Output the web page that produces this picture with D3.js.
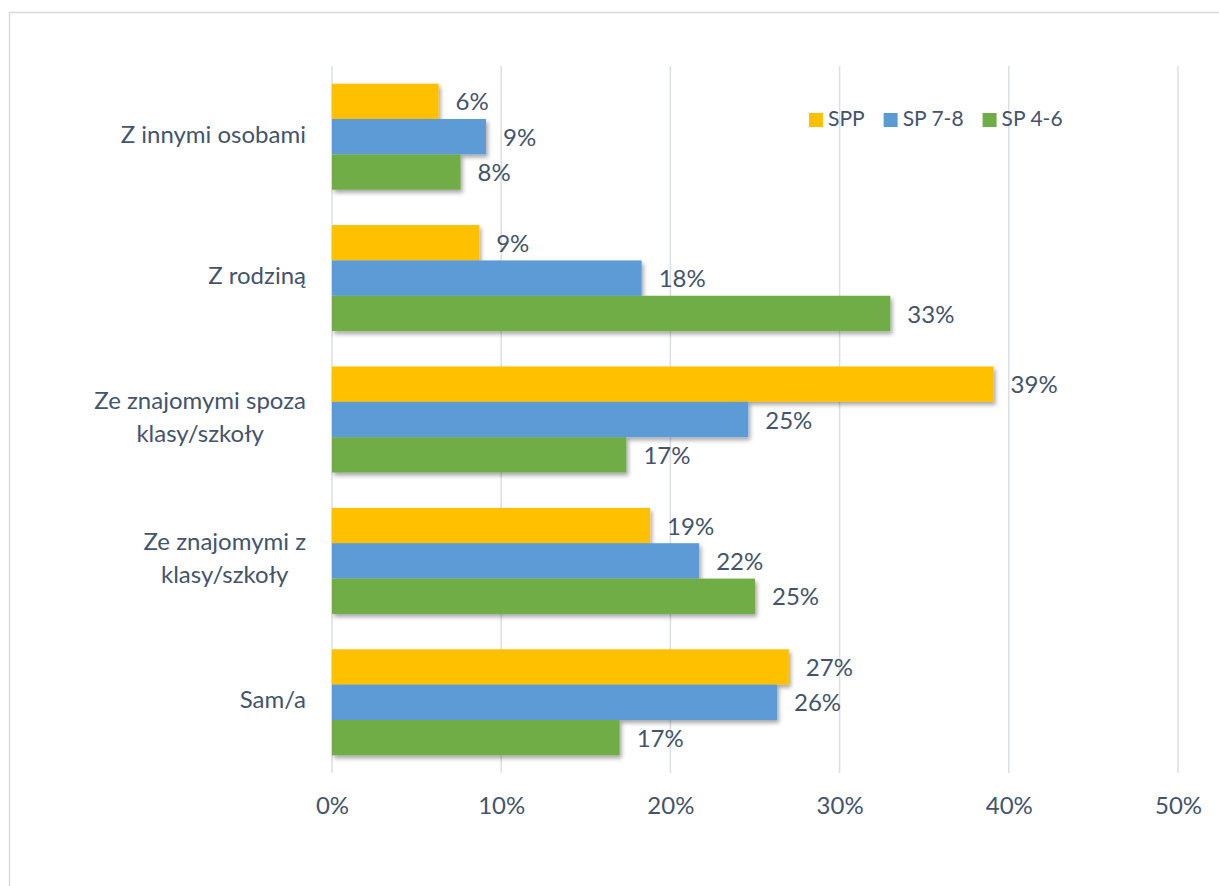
<!DOCTYPE html>
<html>
<head>
<meta charset="utf-8">
<script src="https://cdn.jsdelivr.net/npm/d3@7"></script>
<style>
  html, body { margin: 0; padding: 0; background: #fff; }
  svg { display: block; }
  text { font-family: Lato, "Open Sans", sans-serif; fill: #44546A; }
</style>
</head>
<body>
<svg id="chart" width="1219" height="886"></svg>
<script>
// Categories (top to bottom); "\n" marks a line break in the axis label
const categories = [
  "Z innymi osobami",
  "Z rodziną",
  "Ze znajomymi spoza\nklasy/szkoły",
  "Ze znajomymi z\nklasy/szkoły",
  "Sam/a"
];
const seriesNames = ["SPP", "SP 7-8", "SP 4-6"];
const seriesColors = ["#FFC000", "#5B9BD5", "#70AD47"];
// Percent values per series, same order as categories
const valuesSPP  = [6.3, 8.7, 39.1, 18.8, 27.0];
const valuesSP78 = [9.1, 18.3, 24.6, 21.7, 26.3];
const valuesSP46 = [7.6, 33.0, 17.4, 25.0, 17.0];
const tickValues = [0, 10, 20, 30, 40, 50];

const seriesValues = [valuesSPP, valuesSP78, valuesSP46];

const svg = d3.select("#chart");
const fontSize = 24;

// Outer chart frame
svg.append("rect")
  .attr("x", 9.5).attr("y", 12.5)
  .attr("width", 1240).attr("height", 900)
  .attr("fill", "#fff").attr("stroke", "#D9D9D9").attr("stroke-width", 1.5);

// Soft shadow under the bars
const defs = svg.append("defs");
const f = defs.append("filter").attr("id", "shadow")
  .attr("x", "-5%").attr("y", "-20%").attr("width", "115%").attr("height", "160%");
f.append("feDropShadow")
  .attr("dx", 2).attr("dy", 3).attr("stdDeviation", 2)
  .attr("flood-color", "#000").attr("flood-opacity", 0.35);

const plot = { left: 332, right: 1178, top: 66, bottom: 773 };

const x = d3.scaleLinear().domain([0, 50]).range([plot.left, plot.right]);
const y = d3.scaleBand().domain(categories)
  .range([plot.top, plot.bottom]).paddingInner(0.25).paddingOuter(0.125);
const ySub = d3.scaleBand().domain(seriesNames).range([0, y.bandwidth()]).padding(0);

// Vertical gridlines
svg.append("g").selectAll("line").data(tickValues).join("line")
  .attr("x1", d => x(d)).attr("x2", d => x(d))
  .attr("y1", plot.top).attr("y2", plot.bottom)
  .attr("stroke", "#DADEE5").attr("stroke-width", 1.5);

// Bottom value axis (labels only)
const xAxis = svg.append("g")
  .attr("transform", `translate(0,${plot.bottom})`)
  .call(d3.axisBottom(x).tickValues(tickValues).tickSize(0).tickPadding(24)
    .tickFormat(d => d + "%"));
xAxis.select(".domain").remove();
xAxis.selectAll("text")
  .attr("font-size", fontSize)
  .style("font-family", "Lato, 'Open Sans', sans-serif")
  .attr("fill", "#44546A");

// Bars
const rows = [];
categories.forEach((c, i) => {
  seriesNames.forEach((s, j) => {
    rows.push({ cat: c, series: s, color: seriesColors[j], value: seriesValues[j][i] });
  });
});

const bars = svg.append("g").attr("filter", "url(#shadow)");
bars.selectAll("rect").data(rows).join("rect")
  .attr("x", x(0))
  .attr("y", d => y(d.cat) + ySub(d.series))
  .attr("width", d => x(d.value) - x(0))
  .attr("height", ySub.bandwidth())
  .attr("fill", d => d.color);

// Value labels
svg.append("g").selectAll("text").data(rows).join("text")
  .attr("x", d => x(d.value) + 17)
  .attr("y", d => y(d.cat) + ySub(d.series) + ySub.bandwidth() / 2 + 3)
  .attr("dominant-baseline", "middle")
  .attr("font-size", fontSize)
  .text(d => Math.round(d.value) + "%");

// Category labels: block right-aligned, lines centred within the block
const labelRight = 306;
const lineHeight = 33;
const catG = svg.append("g");
categories.forEach(c => {
  const lines = c.split("\n");
  const g = catG.append("g");
  const texts = lines.map((ln, k) => g.append("text")
    .attr("font-size", fontSize)
    .attr("text-anchor", "middle")
    .attr("dominant-baseline", "middle")
    .attr("y", y(c) + y.bandwidth() / 2 + (k - (lines.length - 1) / 2) * lineHeight)
    .text(ln));
  const w = d3.max(texts, t => t.node().getComputedTextLength());
  texts.forEach(t => t.attr("x", labelRight - w / 2));
});

// Legend
const legend = svg.append("g");
let lx = 809;
seriesNames.forEach((s, j) => {
  legend.append("rect")
    .attr("x", lx).attr("y", 113).attr("width", 14).attr("height", 14)
    .attr("fill", seriesColors[j]);
  const t = legend.append("text")
    .attr("x", lx + 19).attr("y", 121)
    .attr("dominant-baseline", "middle")
    .attr("font-size", 21)
    .text(s);
  lx += 19 + t.node().getComputedTextLength() + 19;
});
</script>
</body>
</html>
